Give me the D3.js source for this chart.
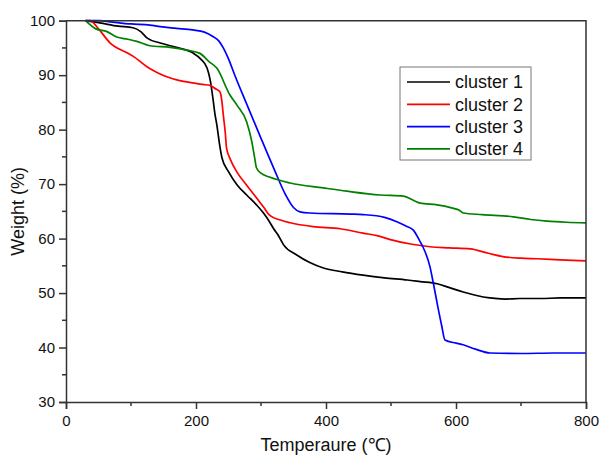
<!doctype html>
<html lang="en">
  <head>
    <meta charset="UTF-8" />
    <title>TGA curves</title>
    <script src="https://d3js.org/d3.v7.min.js"></script>
    <style>
      body { margin: 0; background: #fff; }
      svg { display: block; font-family: "Liberation Sans", Arial, sans-serif; }
    </style>
  </head>
  <body>
    <svg id="chart" width="600" height="461"></svg>
    <script>
      // values: [temperature, weight]
      const seriesNames = ["cluster 1", "cluster 2", "cluster 3", "cluster 4"];
      const seriesColors = ["#000000", "#ff0000", "#0000ff", "#008000"];

      const cluster1 = [[30,100],[52,99.6],[80,99.0],[103,98.7],[115,98.0],[125,96.8],[145,95.9],[170,95.1],[195,94.1],[207,93.0],[217,91.3],[222,89.0],[226,85.8],[229,83.0],[232,80.9],[236,77.5],[240,74.8],[250,72.3],[263,69.9],[278,68.0],[293,66.2],[305,64.5],[313,63.1],[320,61.7],[326,60.7],[335,58.8],[355,57.0],[375,55.6],[396,54.6],[425,53.9],[457,53.3],[490,52.8],[525,52.4],[545,52.1],[571,51.7],[590,51.0],[611,50.2],[630,49.6],[652,49.1],[675,48.9],[698,49.0],[730,49.0],[760,49.1],[800,49.1]];
      const cluster2 = [[30,100],[37,100],[50,98.5],[68,95.9],[94,94.1],[103,93.5],[125,91.5],[140,90.5],[155,89.7],[175,89.0],[195,88.6],[210,88.3],[222,88.1],[230,87.5],[237,86.9],[240,85.0],[242,82.7],[245,79.5],[247,76.6],[253,74.5],[263,72.2],[278,69.8],[293,67.5],[305,65.6],[313,64.3],[330,63.4],[345,62.9],[380,62.2],[422,61.8],[457,61.0],[480,60.5],[499,59.8],[530,59.0],[560,58.5],[590,58.3],[622,58.1],[650,57.3],[672,56.7],[700,56.4],[725,56.3],[760,56.1],[800,55.9]];
      const cluster3 = [[30,100],[52,100],[68,99.8],[100,99.4],[129,99.2],[145,98.9],[170,98.6],[195,98.3],[213,97.9],[226,97.1],[235,96.3],[242,95.0],[250,93.0],[260,89.9],[278,84.7],[300,78.4],[320,72.8],[338,68.0],[350,65.7],[360,64.9],[375,64.7],[437,64.5],[457,64.4],[490,63.9],[509,63.1],[523,62.3],[534,61.6],[545,59.4],[549,58.5],[560,54.8],[565,51.9],[572,47.5],[578,44.0],[583,41.4],[600,40.8],[611,40.5],[630,39.7],[652,39.0],[700,38.9],[750,39.0],[800,39.0]];
      const cluster4 = [[30,100],[46,98.5],[63,98.0],[78,97.0],[95,96.6],[109,96.2],[129,95.4],[160,95.1],[186,94.6],[206,94.0],[220,92.5],[232,91.3],[252,86.4],[263,84.5],[278,81.4],[286,77.7],[290,75.0],[293,73.0],[300,72.0],[313,71.3],[345,70.2],[396,69.3],[432,68.7],[483,68.0],[519,67.8],[535,67.0],[545,66.5],[571,66.2],[595,65.6],[605,65.2],[611,64.7],[640,64.4],[688,64.0],[715,63.5],[740,63.2],[770,63.0],[800,62.9]];
      const allSeries = [cluster1, cluster2, cluster3, cluster4];

      const xTicks = [0, 200, 400, 600, 800];
      const xMinorTicks = [100, 300, 500, 700];
      const yTicks = [30, 40, 50, 60, 70, 80, 90, 100];
      const yMinorTicks = [35, 45, 55, 65, 75, 85, 95];

      const margin = { left: 66, right: 14, top: 20.7, bottom: 59 };
      const width = 600, height = 461;
      const svg = d3.select("#chart");

      const x = d3.scaleLinear().domain([0, 800]).range([margin.left, width - margin.right]);
      const y = d3.scaleLinear().domain([30, 100]).range([height - margin.bottom, margin.top]);

      const line = d3.line()
        .x(d => x(d[0]))
        .y(d => y(d[1]))
        .curve(d3.curveMonotoneX);

      // curves
      allSeries.forEach((s, i) => {
        svg.append("path")
          .datum(s)
          .attr("d", line)
          .attr("fill", "none")
          .attr("stroke", seriesColors[i])
          .attr("stroke-width", 1.7);
      });

      // frame (top + right)
      svg.append("path")
        .attr("d", `M${x(0)},${y(100)}H${x(800)}V${y(30)}`)
        .attr("fill", "none")
        .attr("stroke", "#333")
        .attr("stroke-width", 1.5);

      // x axis
      const xAxis = svg.append("g")
        .attr("transform", `translate(0,${y(30)})`)
        .call(d3.axisBottom(x).tickValues(xTicks).tickSize(7).tickPadding(6).tickFormat(d3.format("d")));
      xAxis.append("g").selectAll("line")
        .data(xMinorTicks).join("line")
        .attr("x1", d => x(d)).attr("x2", d => x(d))
        .attr("y1", 0).attr("y2", 4)
        .attr("stroke", "#333").attr("stroke-width", 1.5);

      // y axis
      const yAxis = svg.append("g")
        .attr("transform", `translate(${x(0)},0)`)
        .call(d3.axisLeft(y).tickValues(yTicks).tickSize(7).tickPadding(4));
      yAxis.append("g").selectAll("line")
        .data(yMinorTicks).join("line")
        .attr("x1", 0).attr("x2", -4)
        .attr("y1", d => y(d)).attr("y2", d => y(d))
        .attr("stroke", "#333").attr("stroke-width", 1.5);

      [xAxis, yAxis].forEach(g => {
        g.select(".domain").attr("stroke", "#333").attr("stroke-width", 1.5);
        g.selectAll(".tick line").attr("stroke", "#333").attr("stroke-width", 1.5);
        g.selectAll(".tick text")
          .attr("fill", "#111")
          .style("font-size", "15px")
          .style("font-family", "'Liberation Sans', Arial, sans-serif");
      });

      // axis titles
      svg.append("text")
        .attr("x", (x(0) + x(800)) / 2)
        .attr("y", 451)
        .attr("text-anchor", "middle")
        .attr("font-size", 18)
        .attr("fill", "#111")
        .text("Temperaure (℃)");

      svg.append("text")
        .attr("transform", `translate(24,${(y(30) + y(100)) / 2}) rotate(-90)`)
        .attr("text-anchor", "middle")
        .attr("font-size", 18)
        .attr("fill", "#111")
        .text("Weight (%)");

      // legend
      const legend = svg.append("g").attr("transform", "translate(400,67)");
      legend.append("rect")
        .attr("width", 131).attr("height", 93)
        .attr("fill", "#fff")
        .attr("stroke", "#777").attr("stroke-width", 1);
      seriesNames.forEach((name, i) => {
        const cy = 15 + i * 22.3;
        legend.append("line")
          .attr("x1", 7).attr("x2", 50)
          .attr("y1", cy).attr("y2", cy)
          .attr("stroke", seriesColors[i]).attr("stroke-width", 1.7);
        legend.append("text")
          .attr("x", 55).attr("y", cy)
          .attr("dy", "0.35em")
          .attr("font-size", 18)
          .attr("fill", "#111")
          .text(name);
      });
    </script>
  </body>
</html>
